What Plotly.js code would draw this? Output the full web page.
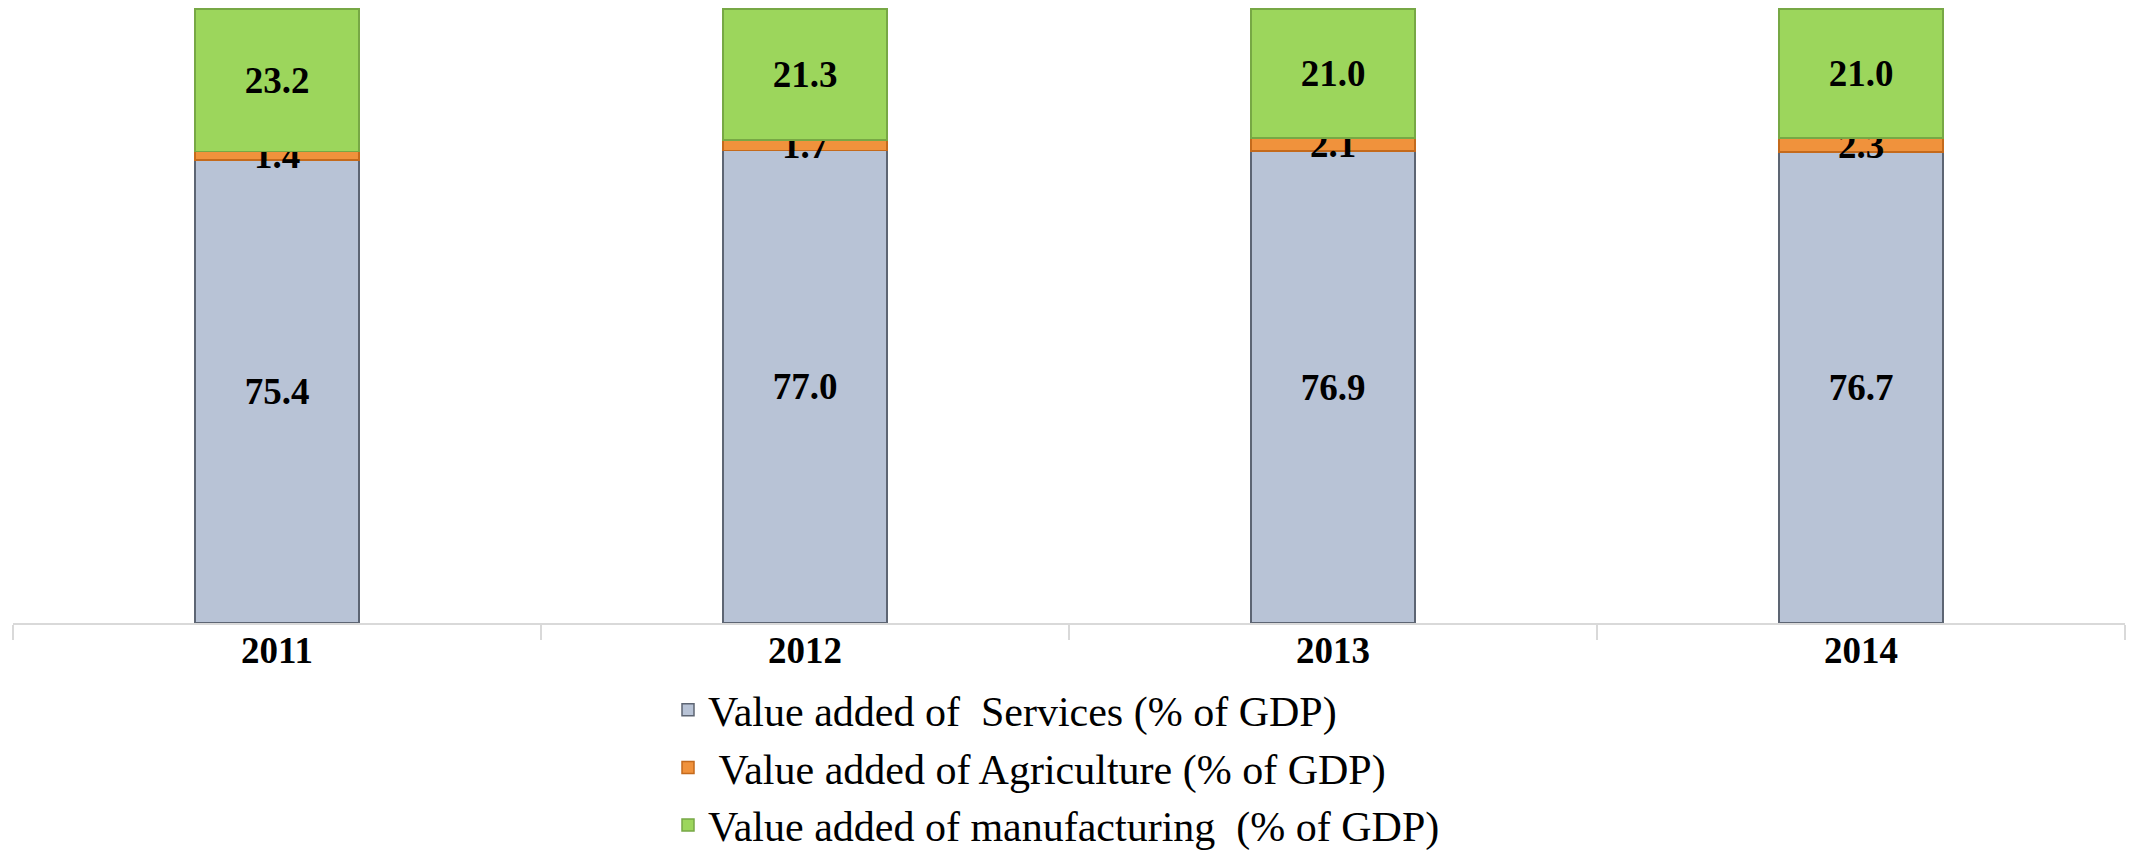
<!DOCTYPE html>
<html>
<head>
<meta charset="utf-8">
<script src="https://cdn.plot.ly/plotly-3.0.1.min.js"></script>
<style>
html,body{margin:0;padding:0;background:#fff;}
#chart{width:2136px;height:850px;}
</style>
</head>
<body>
<div id="chart"></div>
<script>
const years = ["2011", "2012", "2013", "2014"];
const services = [75.4, 77.0, 76.9, 76.7];
const agriculture = [1.4, 1.7, 2.1, 2.3];
const manufacturing = [23.2, 21.3, 21.0, 21.0];
const seriesNames = [
  "Value added of\u00a0 Services (% of GDP)",
  "\u00a0Value added of Agriculture (% of GDP)",
  "Value added of manufacturing\u00a0 (% of GDP)"
];

const serif = "Liberation Serif, Times New Roman, serif";
const labelFont = {family: serif, size: 37, color: "#000"};
const fmt = v => v.toFixed(1);

function barTrace(values, name, fill, edge, group) {
  return {
    type: "bar",
    x: years,
    y: values,
    name: name,
    legendgroup: group,
    width: 0.31,
    marker: {color: fill, line: {color: edge, width: 1.5}},
    text: values.map(fmt),
    texttemplate: "<b>%{text}</b>",
    textposition: "inside",
    textangle: 0,
    insidetextanchor: "middle",
    constraintext: "none",
    textfont: labelFont,
    cliponaxis: false,
    hoverinfo: "skip"
  };
}

const data = [
  barTrace(services, seriesNames[0], "#b8c3d6", "#5d6573", "g1"),
  barTrace(agriculture, seriesNames[1], "#f0923c", "#c46a1c", "g2"),
  barTrace(manufacturing, seriesNames[2], "#9cd65c", "#77a845", "g3")
];

const layout = {
  width: 2136,
  height: 850,
  paper_bgcolor: "#ffffff",
  plot_bgcolor: "#ffffff",
  margin: {l: 13, r: 11, t: 8, b: 227, pad: 0, autoexpand: false},
  barmode: "stack",
  showlegend: true,
  font: {family: serif, color: "#000"},
  xaxis: {
    type: "category",
    automargin: false,
    showline: true,
    linecolor: "#d9d9d9",
    linewidth: 1.5,
    ticks: "outside",
    tickson: "boundaries",
    ticklen: 15,
    tickcolor: "#d9d9d9",
    tickwidth: 1.5,
    ticklabelstandoff: -6,
    showgrid: false,
    zeroline: false,
    tickfont: {family: serif, size: 37, color: "#000", weight: "bold"},
    fixedrange: true
  },
  yaxis: {
    range: [0, 100.2],
    visible: false,
    automargin: false,
    showgrid: false,
    zeroline: false,
    fixedrange: true
  },
  legend: {
    orientation: "v",
    traceorder: "grouped",
    tracegroupgap: 0,
    xref: "container",
    yref: "container",
    x: 668 / 2136,
    xanchor: "left",
    y: 1 - 676 / 850,
    yanchor: "top",
    font: {family: serif, size: 42, color: "#000"},
    bgcolor: "rgba(0,0,0,0)",
    borderwidth: 0
  }
};

Plotly.newPlot("chart", data, layout, {displayModeBar: false, staticPlot: true});
</script>
</body>
</html>
